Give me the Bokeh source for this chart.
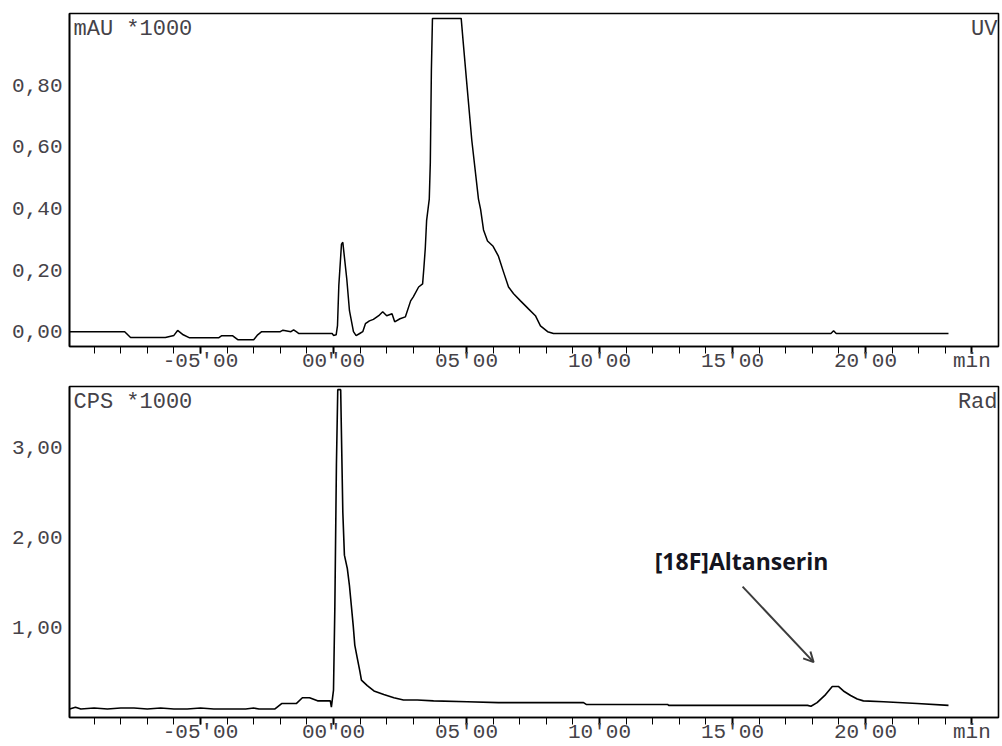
from bokeh.plotting import figure
from bokeh.layouts import column
from bokeh.models import FixedTicker, Range1d, Label, Arrow, OpenHead
from bokeh.embed import file_html
from bokeh.resources import INLINE

# ---------------- data ----------------
uv_time = [-9.92, -7.85, -7.63, -6.32, -6.0, -5.86, -5.65, -5.41, -4.32, -4.2, -3.8, -3.6,
           -3.0, -2.85, -2.7, -2.0, -1.9, -1.6, -1.5, -1.4, -1.3, -0.05, 0.0, 0.1, 0.15,
           0.2, 0.3, 0.35, 0.4, 0.5, 0.6, 0.75, 0.85, 1.0, 1.1, 1.2, 1.35, 1.5, 1.7, 1.85,
           2.0, 2.2, 2.3, 2.5, 2.7, 2.9, 3.0, 3.2, 3.35, 3.4, 3.45, 3.5, 3.6, 3.64, 3.68,
           3.72, 4.8, 4.87, 5.0, 5.2, 5.45, 5.53, 5.64, 5.79, 6.0, 6.2, 6.39, 6.58, 6.77,
           7.03, 7.33, 7.59, 7.78, 8.05, 8.27, 18.7, 18.8, 18.9, 23.12]
uv_value = [0.0, 0.0, -0.019, -0.019, -0.012, 0.004, -0.01, -0.02, -0.02, -0.013, -0.013, -0.026,
            -0.026, -0.01, 0.0, 0.0, 0.005, 0.0, 0.006, 0.0, -0.006, -0.006, -0.012, -0.01, 0.02,
            0.15, 0.284, 0.29, 0.25, 0.17, 0.068, 0.0, -0.013, -0.005, 0.0, 0.026, 0.035, 0.04, 0.052, 0.065,
            0.052, 0.058, 0.032, 0.042, 0.048, 0.1, 0.113, 0.145, 0.155, 0.21, 0.27, 0.36, 0.43, 0.55, 0.85,
            1.016, 1.016, 0.945, 0.816, 0.62, 0.43, 0.397, 0.33, 0.294, 0.277, 0.245, 0.194, 0.145, 0.123,
            0.1, 0.074, 0.052, 0.019, 0.0, -0.006, -0.006, 0.003, -0.006, -0.006]

rad_time = [-9.92, -9.7, -9.5, -9.0, -8.5, -8.0, -7.5, -7.0, -6.5, -6.0, -5.5, -5.0, -4.5, -4.0,
            -3.3, -3.0, -2.8, -2.2, -1.95, -1.4, -1.17, -0.9, -0.6, -0.12, -0.08, 0.0, 0.05, 0.11,
            0.16, 0.27, 0.29, 0.35, 0.41, 0.52, 0.6, 0.67, 0.74, 0.8, 0.89, 0.99, 1.05, 1.27, 1.52,
            1.89, 2.27, 2.63, 3.15, 3.76, 5.03, 6.2, 9.4, 9.5, 12.56, 12.6, 17.82, 17.95, 18.18,
            18.5, 18.75, 18.98, 19.17, 19.44, 19.69, 19.92, 20.68, 21.94, 23.12]
rad_value = [0.09, 0.11, 0.09, 0.1, 0.09, 0.1, 0.1, 0.09, 0.1, 0.09, 0.09, 0.1, 0.09, 0.09,
             0.09, 0.1, 0.09, 0.09, 0.15, 0.15, 0.215, 0.215, 0.18, 0.18, 0.11, 0.3, 1.21, 2.81,
             3.64, 3.64, 3.29, 2.28, 1.8, 1.65, 1.46, 1.24, 1.02, 0.8, 0.66, 0.51, 0.41, 0.35, 0.29,
             0.25, 0.215, 0.19, 0.19, 0.18, 0.17, 0.16, 0.16, 0.14, 0.14, 0.13, 0.13, 0.12, 0.16,
             0.25, 0.34, 0.34, 0.29, 0.24, 0.2, 0.18, 0.17, 0.15, 0.13]

x_major = [-5, 0, 5, 10, 15, 20, 24]
x_labels = ["-05'00", '00"00', "05'00", "10'00", "15'00", "20'00", "min"]
x_minor = list(range(-9, 25))
uv_ticks = [0, 0.2, 0.4, 0.6, 0.8]
uv_labels = ["0,00", "0,20", "0,40", "0,60", "0,80"]
rad_ticks = [1, 2, 3]
rad_labels = ["1,00", "2,00", "3,00"]

MONO = "Liberation Mono"
TXT = "#454248"
X0, X1 = -9.925, 25.0


def make_fig(height, top_border, y0, y1, yt, yl):
    p = figure(width=1000, height=height, output_backend="svg", toolbar_location=None,
               x_range=Range1d(X0, X1), y_range=Range1d(y0, y1),
               min_border_left=69, min_border_right=2, min_border_top=top_border,
               min_border_bottom=27)
    p.grid.visible = False
    p.background_fill_color = "white"
    p.border_fill_color = "white"
    p.outline_line_color = "black"
    p.outline_line_width = 1.6

    xa = p.xaxis[0]
    xa.ticker = FixedTicker(ticks=x_major, minor_ticks=x_minor)
    xa.major_label_overrides = dict(zip(x_major, x_labels))
    xa.axis_line_color = "black"
    xa.axis_line_width = 1.6
    xa.major_tick_in = 0
    xa.major_tick_out = 7
    xa.major_tick_line_width = 2
    xa.major_tick_line_color = "black"
    xa.minor_tick_in = 0
    xa.minor_tick_out = 7
    xa.minor_tick_line_width = 1
    xa.minor_tick_line_color = "black"
    xa.major_label_standoff = -4
    xa.major_label_text_font = MONO
    xa.major_label_text_font_size = "21px"
    xa.major_label_text_color = TXT

    ya = p.yaxis[0]
    ya.ticker = FixedTicker(ticks=yt, minor_ticks=[])
    ya.major_label_overrides = dict(zip(yt, yl))
    ya.axis_line_color = "black"
    ya.axis_line_width = 1.6
    ya.major_tick_in = 0
    ya.major_tick_out = 0
    ya.minor_tick_in = 0
    ya.minor_tick_out = 0
    ya.major_label_standoff = 7
    ya.major_label_text_font = MONO
    ya.major_label_text_font_size = "21px"
    ya.major_label_text_color = TXT
    return p


def corner(p, x, y, text, align, xoff):
    p.add_layout(Label(x=x, y=y, x_offset=xoff, y_offset=-3, text=text,
                       text_font=MONO, text_font_size="22px", text_color=TXT,
                       text_baseline="top", text_align=align))


p1 = make_fig(375, 13, -0.048, 1.032, uv_ticks, uv_labels)
p1.line(uv_time, uv_value, line_color="black", line_width=1.5)
corner(p1, X0, 1.032, "mAU *1000", "left", 4)
corner(p1, X1, 1.032, "UV", "right", -1)

p2 = make_fig(371, 11, -0.005, 3.675, rad_ticks, rad_labels)
p2.line(rad_time, rad_value, line_color="black", line_width=1.6)
corner(p2, X0, 3.675, "CPS *1000", "left", 4)
corner(p2, X1, 3.675, "Rad", "right", -1)
p2.add_layout(Label(x=15.34, y=1.74, text="[18F]Altanserin", text_font="Open Sans",
                    text_font_style="bold", text_font_size="23px", text_color="#141420",
                    text_baseline="middle", text_align="center"))
p2.add_layout(Arrow(end=OpenHead(size=10, line_color="#3c3c3c", line_width=2),
                    x_start=15.38, y_start=1.45, x_end=18.05, y_end=0.61,
                    line_color="#3c3c3c", line_width=2))

layout = column(p1, p2, spacing=0)
open("out.html", "w").write(file_html(layout, INLINE))
